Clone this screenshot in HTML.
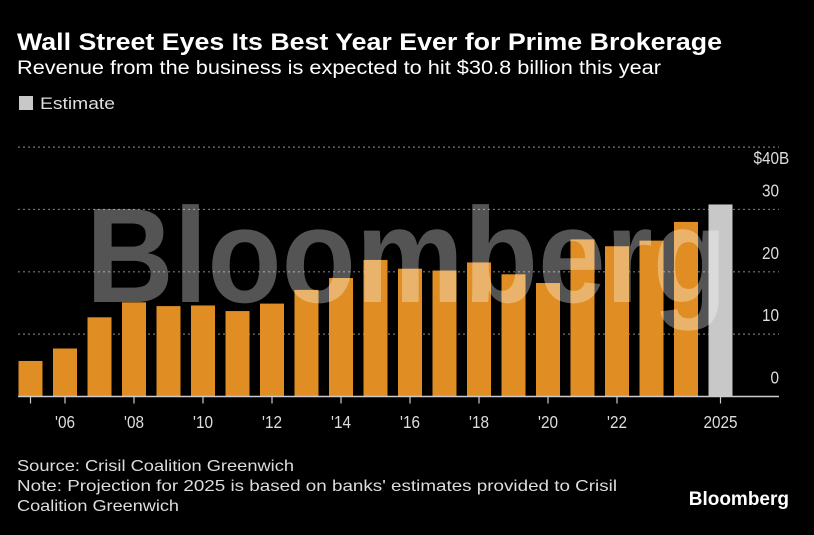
<!DOCTYPE html>
<html><head><meta charset="utf-8"><style>
body{margin:0;background:#000;width:814px;height:530px;overflow:hidden;font-family:"Liberation Sans",sans-serif;color:#fff}
</style></head><body>
<svg width="814" height="530" xmlns="http://www.w3.org/2000/svg">
<text x="17" y="50" font-size="24" font-weight="bold" fill="#fff" textLength="705" lengthAdjust="spacingAndGlyphs">Wall Street Eyes Its Best Year Ever for Prime Brokerage</text>
<text x="17" y="74" font-size="19" fill="#fff" textLength="644" lengthAdjust="spacingAndGlyphs">Revenue from the business is expected to hit $30.8 billion this year</text>
<rect x="19" y="96" width="14" height="14" fill="#c8c8c8"/>
<text x="40" y="109" font-size="17" fill="#ddd" textLength="75" lengthAdjust="spacingAndGlyphs">Estimate</text>
<g id="grid"></g>
<g id="bars"></g>
<g id="axes"></g>
<text x="86" y="302" font-size="135" font-weight="bold" fill="#fff" fill-opacity="0.33" textLength="641" lengthAdjust="spacingAndGlyphs">Bloomberg</text>
<text x="17" y="471" font-size="16" fill="#ddd" textLength="277" lengthAdjust="spacingAndGlyphs">Source: Crisil Coalition Greenwich</text>
<text x="17" y="491" font-size="16" fill="#ddd" textLength="600" lengthAdjust="spacingAndGlyphs">Note: Projection for 2025 is based on banks' estimates provided to Crisil</text>
<text x="17" y="511" font-size="16" fill="#ddd" textLength="162" lengthAdjust="spacingAndGlyphs">Coalition Greenwich</text>
<text x="789" y="505" font-size="19" font-weight="bold" fill="#fff" text-anchor="end">Bloomberg</text>
</svg>
<script>
const years=[2005,2006,2007,2008,2009,2010,2011,2012,2013,2014,2015,2016,2017,2018,2019,2020,2021,2022,2023,2024,2025];
const revenue=[5.7,7.7,12.7,15.1,14.5,14.6,13.7,14.9,17.1,19.0,21.9,20.5,20.2,21.5,19.6,18.2,25.2,24.1,25.0,28.0,30.8];
const isEstimate=[0,0,0,0,0,0,0,0,0,0,0,0,0,0,0,0,0,0,0,0,1];
const yTicks=[0,10,20,30,40];
const xLabels=["","'06","","'08","","'10","","'12","","'14","","'16","","'18","","'20","","'22","","","2025"];
const NS="http://www.w3.org/2000/svg";
const y0=396.5, pxPer=6.235, x0=18.5, step=34.5, bw=24;
const yS=v=>y0-v*pxPer;
const xS=i=>x0+i*step;
function mk(t,a,p){const e=document.createElementNS(NS,t);for(const k in a)e.setAttribute(k,a[k]);p.appendChild(e);return e;}
const grid=document.getElementById('grid'),bars=document.getElementById('bars'),axes=document.getElementById('axes');
yTicks.forEach(v=>{
 if(v>0){const l=mk('line',{x1:18,x2:779,y1:yS(v),y2:yS(v),stroke:'#777','stroke-width':1.2,'stroke-dasharray':'2,3'},grid);
 
 }
 const top=v==40;
 const ty=top?yS(v)+17:yS(v)-13;
 const t=mk('text',{x:779,y:ty,'font-size':18,fill:'#ddd','text-anchor':'end',transform:'translate(779 0) scale(0.85 1) translate(-779 0)'},axes);
 t.textContent=top?'$40':String(v);
 
 
 if(top){const b=mk('text',{x:779,y:ty,'font-size':18,fill:'#ddd',transform:'translate(779 0) scale(0.85 1) translate(-779 0)'},axes);b.textContent='B';
 
 }
});
revenue.forEach((v,i)=>{
 const r=mk('rect',{x:xS(i),y:yS(v),width:bw,height:y0-yS(v),fill:isEstimate[i]?'#c8c8c8':'#e08e23'},bars);
 
 
});
const base=mk('line',{x1:18,x2:779,y1:y0,y2:y0,stroke:'#ccc','stroke-width':1.5},axes);


years.forEach((yr,i)=>{
 if(i==0||xLabels[i]){const cx=xS(i)+bw/2;
 const tk=mk('line',{x1:cx,x2:cx,y1:y0,y2:y0+7,stroke:'#ccc','stroke-width':1.2},axes);
 
 
 if(xLabels[i]){const t=mk('text',{x:cx,y:428,'font-size':18,fill:'#ddd','text-anchor':'middle',transform:'translate('+cx+' 0) scale(0.85 1) translate('+(-cx)+' 0)'},axes);t.textContent=xLabels[i];
 
 }}
});
</script>
</body></html>
